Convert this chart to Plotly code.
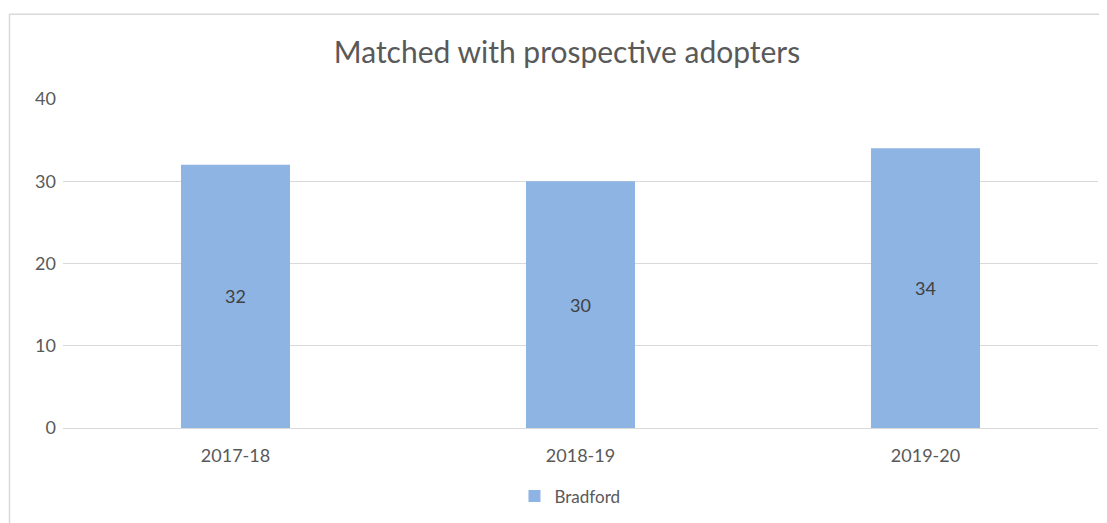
import plotly.graph_objects as go

categories = ["2017-18", "2018-19", "2019-20"]
values = [32, 30, 34]
series_name = "Bradford"
title_text = "Matched with prospective adopters"

# page is rendered with an 8px body margin; compensate
OFF = 8
W, H = 1107, 523
PL, PR, PT, PB = 63, 1098, 99, 431   # plot area in page pixels
pw, ph = PR - PL, PB - PT

def px_x(x):
    return (x - PL) / pw

def px_y(y):
    return (PB - y) / ph

fig = go.Figure(go.Bar(
    x=categories, y=values, name=series_name,
    marker=dict(color="#8EB4E3", line=dict(width=0)),
    text=[str(v) for v in values], textposition="inside",
    insidetextanchor="middle",
    textfont=dict(color="#404040", size=18, family="Lato"),
    showlegend=True,
))

fig.update_layout(
    width=W - OFF, height=H - OFF,
    margin=dict(l=PL - OFF, r=W - PR, t=PT - OFF, b=H - PB),
    paper_bgcolor="white", plot_bgcolor="white",
    font=dict(family="Lato", color="#595959"),
    title=dict(text=title_text, x=px_x(567), xanchor="center", xref="paper",
               y=1 - (52 - OFF) / (H - OFF), yanchor="middle", yref="container",
               font=dict(size=30, color="#595959", family="Lato")),
    bargap=0.684,
    legend=dict(orientation="h", x=px_x(570), xanchor="center",
                y=px_y(500), yanchor="middle", font=dict(size=17, color="#595959"),
                itemwidth=30),
    shapes=[dict(type="rect", xref="paper", yref="paper",
                 x0=px_x(9.5), x1=px_x(1120), y0=px_y(560), y1=px_y(13.5),
                 line=dict(color="#D9D9D9", width=1.5), layer="below")],
)
fig.update_xaxes(showgrid=False, showline=False, ticks="",
                 tickfont=dict(size=18, color="#595959"), ticklabelstandoff=15)
fig.update_yaxes(range=[0, 40], dtick=10, showgrid=True, gridcolor="#D9D9D9",
                 gridwidth=1, zeroline=True, zerolinecolor="#D9D9D9", zerolinewidth=1,
                 showline=False, ticks="", tickfont=dict(size=18, color="#595959"),
                 ticklabelstandoff=6)

fig.write_html("out.html")
